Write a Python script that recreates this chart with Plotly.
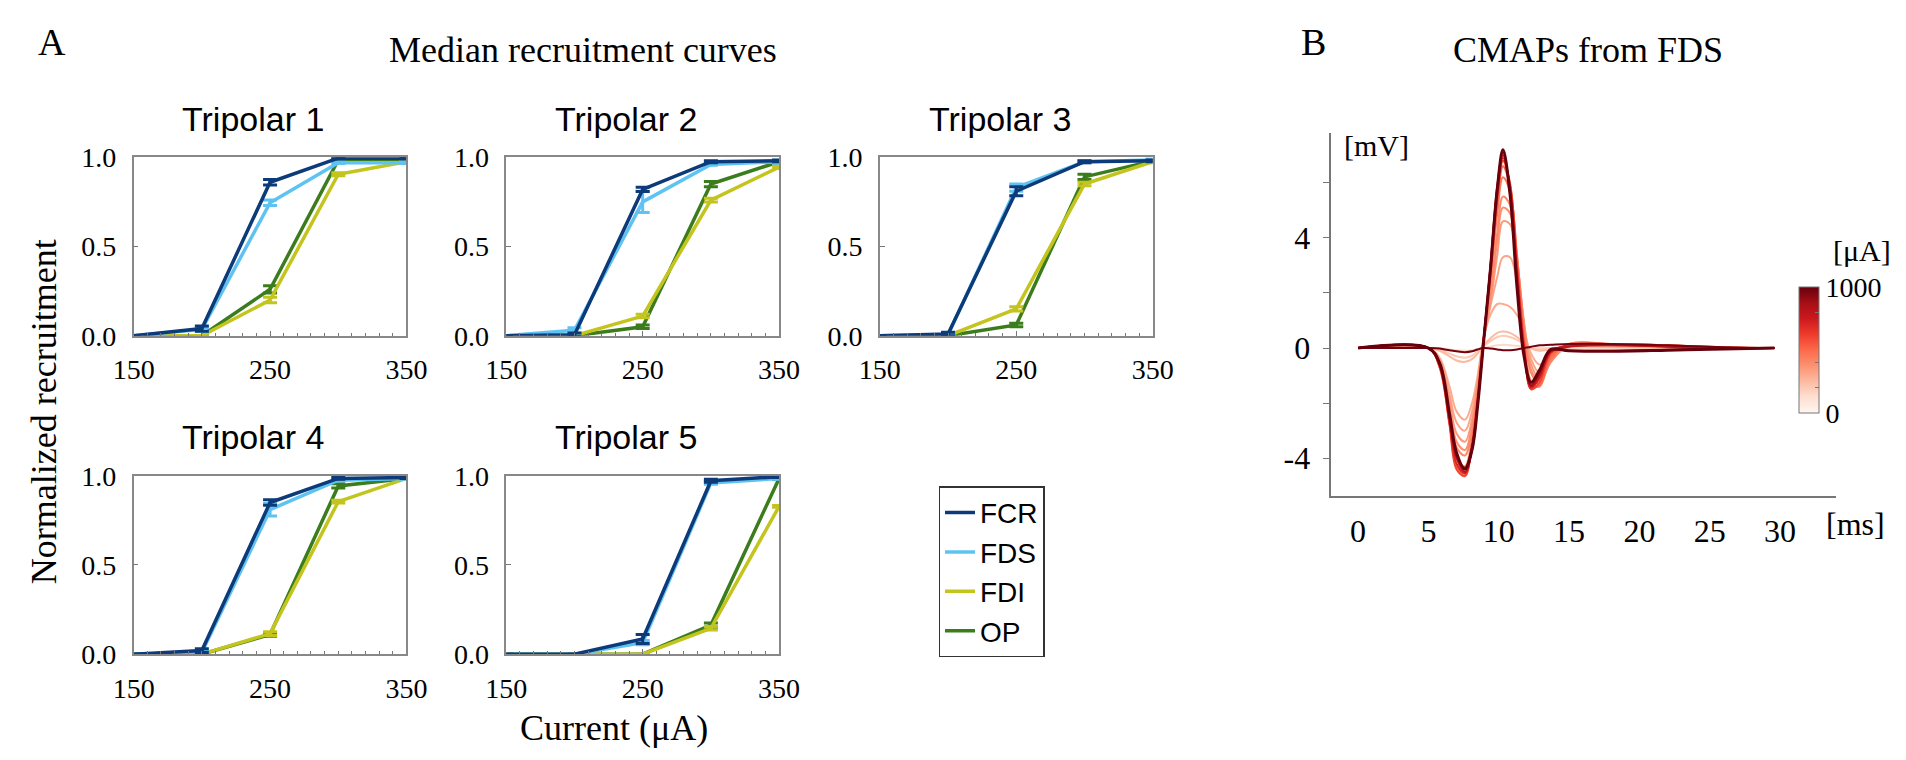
import plotly.graph_objects as go
from plotly.colors import sample_colorscale, sequential

W, H = 1906, 760
SERIF = "Liberation Serif"
SANS = "Liberation Sans"

# ---- A: median recruitment curves ----
currents = [150, 200, 250, 300, 350]
muscles = ["FCR", "FDS", "FDI", "OP"]
muscle_colors = {"FCR": "#0d3b7a", "FDS": "#5ec3f2", "FDI": "#c4c41e", "OP": "#3b7d1c"}

t1_fcr = [0, 0.04, 0.86, 0.995, 0.995]
t1_fcr_err = [0, 0.015, 0.015, 0.005, 0.005]
t1_fds = [0, 0.035, 0.745, 0.97, 0.97]
t1_fds_err = [0, 0.01, 0.015, 0.005, 0.005]
t1_fdi = [0, 0.0, 0.20, 0.905, 0.975]
t1_fdi_err = [0, 0, 0.015, 0.008, 0.005]
t1_op = [0, 0.0, 0.26, 0.985, 0.985]
t1_op_err = [0, 0, 0.02, 0.005, 0.005]

t2_fcr = [0, 0.005, 0.82, 0.975, 0.98]
t2_fcr_err = [0, 0.01, 0.012, 0.005, 0.005]
t2_fds = [0, 0.03, 0.75, 0.96, 0.975]
t2_fds_err = [0, 0.015, 0.06, 0.005, 0.008]
t2_fdi = [0, 0.0, 0.11, 0.76, 0.945]
t2_fdi_err = [0, 0, 0.01, 0.01, 0.008]
t2_op = [0, 0.0, 0.05, 0.85, 0.975]
t2_op_err = [0, 0, 0.01, 0.015, 0.005]

t3_fcr = [0, 0.01, 0.81, 0.975, 0.98]
t3_fcr_err = [0, 0.01, 0.025, 0.006, 0.005]
t3_fds = [0, 0.005, 0.83, 0.975, 0.985]
t3_fds_err = [0, 0.005, 0.02, 0.006, 0.005]
t3_fdi = [0, 0.0, 0.15, 0.85, 0.975]
t3_fdi_err = [0, 0, 0.012, 0.01, 0.005]
t3_op = [0, 0.0, 0.06, 0.89, 0.98]
t3_op_err = [0, 0, 0.01, 0.015, 0.005]

t4_fcr = [0, 0.02, 0.85, 0.985, 0.99]
t4_fcr_err = [0, 0.01, 0.015, 0.005, 0.005]
t4_fds = [0, 0.01, 0.81, 0.975, 0.985]
t4_fds_err = [0, 0.005, 0.035, 0.005, 0.005]
t4_fdi = [0, 0.0, 0.115, 0.855, 0.985]
t4_fdi_err = [0, 0, 0.01, 0.008, 0.005]
t4_op = [0, 0.0, 0.11, 0.943, 0.985]
t4_op_err = [0, 0, 0.01, 0.012, 0.005]

t5_fcr = [0, 0.0, 0.085, 0.972, 0.995]
t5_fcr_err = [0, 0, 0.025, 0.008, 0.005]
t5_fds = [0, 0.0, 0.065, 0.96, 0.985]
t5_fds_err = [0, 0, 0.012, 0.008, 0.005]
t5_fdi = [0, 0.0, 0.0, 0.145, 0.828]
t5_fdi_err = [0, 0, 0, 0.01, 0.005]
t5_op = [0, 0.0, 0.0, 0.163, 0.985]
t5_op_err = [0, 0, 0, 0.012, 0.005]

tripolar_names = ["Tripolar 1", "Tripolar 2", "Tripolar 3", "Tripolar 4", "Tripolar 5"]
tripolar_data = [
    {"FCR": (t1_fcr, t1_fcr_err), "FDS": (t1_fds, t1_fds_err), "FDI": (t1_fdi, t1_fdi_err), "OP": (t1_op, t1_op_err)},
    {"FCR": (t2_fcr, t2_fcr_err), "FDS": (t2_fds, t2_fds_err), "FDI": (t2_fdi, t2_fdi_err), "OP": (t2_op, t2_op_err)},
    {"FCR": (t3_fcr, t3_fcr_err), "FDS": (t3_fds, t3_fds_err), "FDI": (t3_fdi, t3_fdi_err), "OP": (t3_op, t3_op_err)},
    {"FCR": (t4_fcr, t4_fcr_err), "FDS": (t4_fds, t4_fds_err), "FDI": (t4_fdi, t4_fdi_err), "OP": (t4_op, t4_op_err)},
    {"FCR": (t5_fcr, t5_fcr_err), "FDS": (t5_fds, t5_fds_err), "FDI": (t5_fdi, t5_fdi_err), "OP": (t5_op, t5_op_err)},
]

# ---- B: CMAPs from FDS (mV), one trace per stimulation current ----
cmap_t = [0, 5.0, 5.8, 6.5, 7.0, 7.6, 8.1, 8.5, 8.9, 9.4, 9.9, 10.3, 10.8, 11.3, 11.8, 12.3, 12.9, 13.7, 15.0, 18.0, 22.0, 26.0, 29.6]
cmap_150 = [0, 0, 0, -0.05, -0.08, -0.1, -0.08, -0.03, 0, 0.05, 0.1, 0.12, 0.1, 0.08, 0.04, 0, 0, 0, 0, 0, 0, 0, 0]
cmap_200 = [0, 0, -0.05, -0.2, -0.3, -0.35, -0.28, -0.12, 0.05, 0.25, 0.4, 0.45, 0.4, 0.3, 0.15, 0.0, -0.05, 0, 0.03, 0.03, 0.01, 0, 0]
cmap_250 = [0, 0, -0.1, -0.3, -0.45, -0.5, -0.4, -0.2, 0.1, 0.35, 0.55, 0.6, 0.55, 0.4, 0.2, 0.0, -0.1, -0.05, 0.05, 0.05, 0.02, 0, 0]
cmap_300 = [0, 0, -0.35, -1.4, -2.3, -2.6, -2.0, -1.0, 0.3, 1.2, 1.6, 1.6, 1.5, 1.2, 0.6, -0.2, -0.6, -0.3, 0.05, 0.05, 0.03, 0, 0]
cmap_320 = [0, 0, -0.4, -1.7, -2.7, -3.0, -2.3, -1.2, 0.3, 1.5, 2.6, 3.3, 3.3, 2.4, 0.8, -0.4, -0.9, -0.4, 0.08, 0.08, 0.04, 0, 0]
cmap_350 = [0, 0, -0.45, -1.9, -3.1, -3.4, -2.6, -1.3, 0.2, 1.6, 3.4, 4.6, 4.5, 3.0, 0.9, -0.6, -1.1, -0.5, 0.1, 0.1, 0.05, 0.0, 0]
cmap_380 = [0, 0, -0.5, -2.1, -3.4, -3.7, -2.8, -1.4, 0.2, 1.8, 3.9, 5.1, 4.9, 3.2, 0.9, -0.8, -1.2, -0.5, 0.12, 0.1, 0.06, 0.01, 0]
cmap_400 = [0, 0, -0.5, -2.2, -3.6, -3.9, -3.0, -1.5, 0.2, 2.0, 4.2, 5.5, 5.2, 3.3, 0.8, -0.9, -1.3, -0.5, 0.15, 0.12, 0.08, 0.02, 0]
cmap_450 = [0, 0, -0.6, -2.5, -4.0, -4.3, -3.3, -1.7, 0.2, 2.4, 4.9, 6.2, 5.7, 3.4, 0.5, -1.2, -1.4, -0.4, 0.15, 0.15, 0.1, 0.03, 0]
cmap_500 = [0, 0, -0.7, -2.7, -4.3, -4.6, -3.5, -1.8, 0.2, 2.6, 5.2, 6.6, 5.9, 3.2, 0.3, -1.4, -1.35, -0.3, 0.1, 0.15, 0.1, 0.03, 0]
cmap_600 = [0, 0, -0.7, -2.8, -4.4, -4.65, -3.5, -1.8, 0.2, 2.7, 5.4, 6.8, 6.0, 3.0, 0.1, -1.5, -1.25, -0.2, 0.1, 0.15, 0.1, 0.02, 0]
cmap_700 = [0, 0, -0.65, -2.7, -4.2, -4.55, -3.6, -1.9, 0.2, 2.8, 5.6, 6.9, 5.9, 2.8, 0.0, -1.45, -1.1, -0.15, 0.1, 0.12, 0.06, 0.0, 0]
cmap_800 = [0, 0, -0.6, -2.6, -4.0, -4.5, -3.7, -2.0, 0.1, 2.9, 5.8, 7.0, 5.8, 2.6, -0.1, -1.4, -1.0, -0.1, 0.05, 0.1, 0.05, 0.0, 0]
cmap_900 = [0, 0, -0.6, -2.5, -3.9, -4.35, -3.6, -2.0, 0.1, 2.9, 5.9, 7.1, 5.7, 2.4, -0.2, -1.35, -0.9, -0.1, -0.1, -0.1, -0.06, -0.02, 0]
cmap_980 = [0, 0, -0.02, -0.08, -0.12, -0.15, -0.12, -0.05, 0.0, -0.02, -0.05, -0.08, -0.08, -0.05, 0.0, 0.05, 0.1, 0.12, 0.15, 0.15, 0.1, 0.03, 0]
cmap_1000 = [0, 0, -0.55, -2.4, -3.8, -4.4, -3.7, -2.1, 0.1, 2.8, 5.8, 7.2, 5.6, 2.2, -0.3, -1.25, -0.8, -0.05, -0.1, -0.12, -0.08, -0.03, 0]

cmap_curves = [
    (150, cmap_150), (200, cmap_200), (250, cmap_250), (300, cmap_300),
    (320, cmap_320), (350, cmap_350), (380, cmap_380), (400, cmap_400),
    (450, cmap_450), (500, cmap_500), (600, cmap_600), (700, cmap_700),
    (800, cmap_800), (900, cmap_900), (980, cmap_980), (1000, cmap_1000),
]
current_max = 1000


def fx(p):
    return p / W


def fy(p):
    return 1 - p / H


reds = sequential.Reds
reds_scale = [[i / (len(reds) - 1), c] for i, c in enumerate(reds)]

fig = go.Figure()

# subplot boxes in pixels: (x0, x1) columns, (top, bottom) rows
col_px = [(107, 386), (488, 767), (870, 1149)]
row_px = [(140, 326), (472, 658)]
grid = [(0, 0), (0, 1), (0, 2), (1, 0), (1, 1)]

annotations = []
layout_axes = {}
for i, (r, c) in enumerate(grid):
    n = i + 1
    x0, x1 = col_px[c]
    top, bot = row_px[r]
    for m in ["OP", "FDI", "FDS", "FCR"]:
        vals, errs = tripolar_data[i][m]
        fig.add_trace(go.Scatter(
            x=currents, y=vals, mode="lines", name=m,
            line=dict(color=muscle_colors[m], width=3.5),
            error_y=dict(type="data", array=errs, color=muscle_colors[m], thickness=3, width=7),
            xaxis=f"x{n}", yaxis=f"y{n}", cliponaxis=False,
            showlegend=(i == 0),
        ))
    layout_axes[f"xaxis{n}"] = dict(
        domain=[fx(x0), fx(x1)], anchor=f"y{n}", range=[150, 350],
        tick0=150, dtick=100, ticks="inside", ticklen=5, tickcolor="#777",
        showline=True, linecolor="#888", linewidth=1.5, mirror=True,
        showgrid=False, zeroline=False, ticklabelstandoff=8,
        tickfont=dict(family=SERIF, size=28, color="black"),
        minor=dict(dtick=10, ticks="inside", ticklen=3, tickcolor="#777"),
    )
    layout_axes[f"yaxis{n}"] = dict(
        domain=[fy(bot), fy(top)], anchor=f"x{n}", range=[0, 1],
        dtick=0.5, tickformat=".1f", ticks="inside", ticklen=5, tickcolor="#777",
        showline=True, linecolor="#888", linewidth=1.5, mirror=True,
        showgrid=False, zeroline=False, ticklabelstandoff=10,
        tickfont=dict(family=SERIF, size=28, color="black"),
    )
    annotations.append(dict(
        text=tripolar_names[i], x=fx((x0 + x1) / 2 - 17), y=fy(top - 40),
        xref="paper", yref="paper", showarrow=False, xanchor="center", yanchor="middle",
        font=dict(family=SANS, size=34, color="black"),
    ))

# CMAP traces, low current first so the strongest ones sit on top
cmap_colors = sample_colorscale(reds, [cur / current_max for cur, _ in cmap_curves])
for (cur, vals), col in zip(cmap_curves, cmap_colors):
    fig.add_trace(go.Scatter(
        x=cmap_t, y=vals, mode="lines",
        line=dict(color=col, width=3 if cur == current_max else 2, shape="spline", smoothing=1.0),
        xaxis="x6", yaxis="y6", showlegend=False, hoverinfo="skip",
    ))

# dummy trace only for the colour bar
fig.add_trace(go.Scatter(
    x=[-100], y=[-100], mode="markers", xaxis="x6", yaxis="y6", showlegend=False,
    marker=dict(
        color=[0], cmin=0, cmax=current_max, colorscale=reds_scale, showscale=True,
        colorbar=dict(
            x=fx(1810), xanchor="left", y=fy(341), yanchor="middle",
            len=126, lenmode="pixels", thickness=20, thicknessmode="pixels",
            xpad=0, ypad=0, outlinecolor="#777", outlinewidth=1,
            tickvals=[0, 200, 400, 600, 800, 1000], ticktext=["0", "", "", "", "", "1000"],
            ticks="inside", ticklen=4, tickcolor="#777",
            tickfont=dict(family=SERIF, size=28, color="black"),
        ),
    ),
))

layout_axes["xaxis6"] = dict(
    domain=[fx(1331), fx(1848)], anchor="y6", range=[-1.95, 34.0],
    tick0=0, dtick=5, ticks="", showline=True, linecolor="#777", linewidth=2,
    showgrid=False, zeroline=False, ticklabelstandoff=6,
    tickfont=dict(family=SERIF, size=32, color="black"),
)
layout_axes["yaxis6"] = dict(
    domain=[fy(493), fy(115)], anchor="x6", range=[-5.37, 7.8],
    tickvals=[-4, -2, 0, 2, 4, 6], ticktext=["-4", "", "0", "", "4", ""],
    ticks="outside", ticklen=6, tickcolor="#777",
    showline=True, linecolor="#777", linewidth=2,
    showgrid=False, zeroline=False, ticklabelstandoff=6,
    tickfont=dict(family=SERIF, size=32, color="black"),
)


def label(text, x, y, size, family=SERIF, xanchor="center", angle=0):
    annotations.append(dict(
        text=text, x=fx(x), y=fy(y), xref="paper", yref="paper", showarrow=False,
        xanchor=xanchor, yanchor="middle", textangle=angle,
        font=dict(family=family, size=size, color="black"),
    ))


label("A", 24, 20, 38)
label("Median recruitment curves", 566, 28, 36)
label("B", 1313, 20, 38)
label("CMAPs from FDS", 1594, 28, 36)
label("Normalized recruitment", 16, 405, 36, angle=-90)
label("Current (μA)", 598, 735, 36)
label("[mV]", 1378, 128, 30)
label("[ms]", 1868, 522, 32)
label("[μA]", 1843, 237, 30, xanchor="left")

fig.update_layout(
    width=W, height=H, margin=dict(l=0, r=0, t=0, b=0),
    paper_bgcolor="white", plot_bgcolor="white",
    annotations=annotations,
    legend=dict(
        x=fx(930), y=fy(483), xanchor="left", yanchor="top",
        traceorder="reversed", bordercolor="#333", borderwidth=1.5,
        bgcolor="white", font=dict(family=SANS, size=28, color="black"),
        entrywidth=150, tracegroupgap=0,
    ),
    **layout_axes,
)

fig.write_html("out.html")
